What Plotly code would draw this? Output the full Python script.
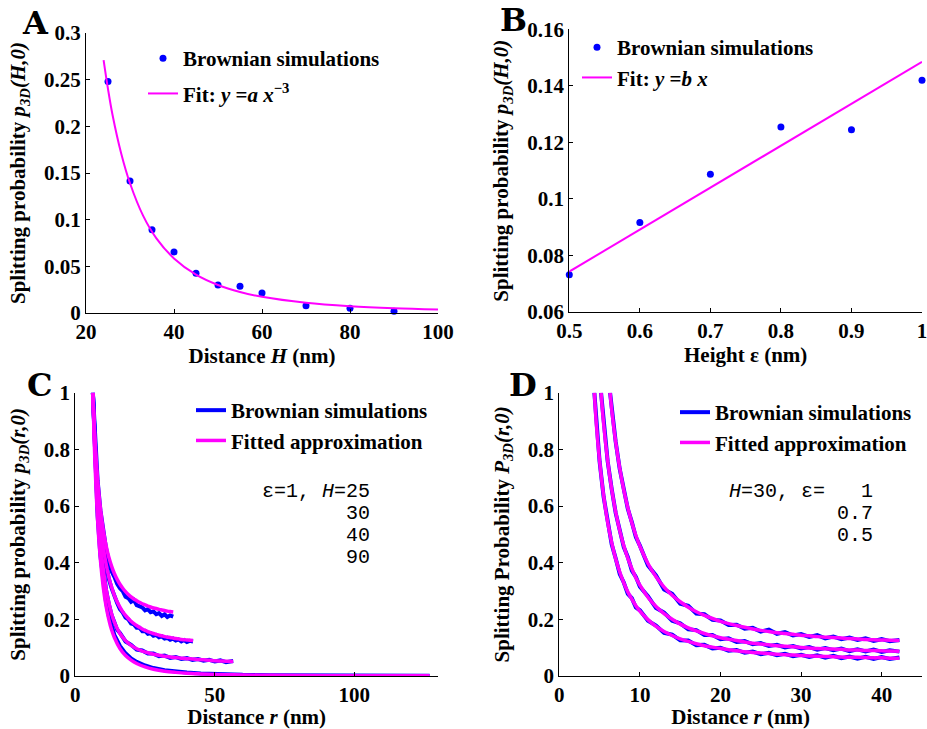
import plotly.graph_objects as go

# ---------------- Panel A data ----------------
H_A = [25, 30, 35, 40, 45, 50, 55, 60, 70, 80, 90]
P_A = [0.248, 0.1414, 0.0893, 0.0654, 0.0425, 0.030, 0.0286, 0.0214, 0.0079, 0.005, 0.0018]
FIT_A_X = [24, 25, 26, 28, 30, 33, 36, 40, 45, 50, 55, 60, 70, 80, 90, 100]
FIT_A_Y = [0.271, 0.240, 0.213, 0.171, 0.139, 0.104, 0.080, 0.0585, 0.0411, 0.030,
           0.0225, 0.0173, 0.0109, 0.0073, 0.0051, 0.0037]

# ---------------- Panel B data ----------------
EPS_B = [0.5, 0.6, 0.7, 0.8, 0.9, 1.0]
P_B = [0.0732, 0.0917, 0.1087, 0.1254, 0.1245, 0.142]
FIT_B_X = [0.5, 1.0]
FIT_B_Y = [0.0743, 0.1485]

# ---------------- shared r grid tail ----------------
R_TAIL = [11, 12, 13, 14, 15, 16, 17, 18, 19, 20, 21, 22, 23, 24, 25, 26, 27, 28, 29, 30,
          31, 32, 33, 34, 35, 36, 37, 38, 39, 40, 41]

# ---------------- Panel C data (eps=1) ----------------
C25_R = [6.3, 7, 8, 9, 10, 11, 12, 13, 14, 15, 16, 17, 18, 19, 20, 21, 22, 23, 24, 25,
         26, 27, 28, 29, 30, 31, 32, 33, 34, 35.1]
C25_FIT = [1.0, 0.848, 0.696, 0.592, 0.518, 0.462, 0.420, 0.388, 0.362, 0.341, 0.324, 0.310,
           0.298, 0.288, 0.279, 0.272, 0.266, 0.260, 0.255, 0.251, 0.247, 0.2435, 0.240,
           0.238, 0.235, 0.233, 0.231, 0.229, 0.2275, 0.226]
C25_SIM = [1.0, 0.845, 0.69, 0.585, 0.51, 0.452, 0.405, 0.37, 0.35, 0.325, 0.31, 0.3, 0.28,
           0.275, 0.262, 0.268, 0.25, 0.245, 0.242, 0.232, 0.236, 0.225, 0.228, 0.218, 0.222,
           0.212, 0.218, 0.208, 0.214, 0.21]

C30_R = [6.3, 6.5, 7, 7.5, 8, 8.5, 9, 9.5, 10] + R_TAIL + [42.2]
C30_FIT = [1.0, 0.941, 0.825, 0.733, 0.657, 0.594, 0.541, 0.496, 0.458,
           0.397, 0.350, 0.314, 0.285, 0.262, 0.243, 0.227, 0.214, 0.203, 0.193, 0.185,
           0.178, 0.172, 0.166, 0.161, 0.157, 0.153, 0.150, 0.147, 0.144, 0.142, 0.139,
           0.137, 0.136, 0.134, 0.132, 0.131, 0.129, 0.128, 0.127, 0.126, 0.125]
C30_SIM = [1.0, 0.938, 0.82, 0.728, 0.65, 0.588, 0.535, 0.49, 0.452,
           0.39, 0.343, 0.31, 0.278, 0.258, 0.236, 0.224, 0.206, 0.2, 0.185,
           0.182, 0.17, 0.17, 0.158, 0.159, 0.149, 0.151, 0.142, 0.145, 0.137,
           0.14, 0.132, 0.135, 0.128, 0.132, 0.125, 0.129, 0.122, 0.127, 0.12,
           0.124, 0.122]

C40_R = [6.3, 7, 8, 9, 10, 11, 12, 13, 14, 15, 16, 18, 20, 22, 24, 26, 28, 30, 32, 34, 36,
         38, 40, 42, 44, 46, 48, 50, 52, 54, 56.6]
C40_FIT = [1.0, 0.80, 0.60, 0.47, 0.38, 0.31, 0.26, 0.22, 0.19, 0.168, 0.15, 0.125, 0.108,
           0.096, 0.088, 0.082, 0.077, 0.073, 0.070, 0.067, 0.065, 0.063, 0.061, 0.060,
           0.058, 0.057, 0.056, 0.054, 0.053, 0.052, 0.051]
C40_SIM = [1.0, 0.79, 0.59, 0.465, 0.37, 0.305, 0.255, 0.215, 0.19, 0.163, 0.152, 0.122,
           0.11, 0.093, 0.09, 0.079, 0.079, 0.07, 0.072, 0.064, 0.067, 0.06, 0.063, 0.057,
           0.06, 0.054, 0.057, 0.051, 0.055, 0.049, 0.053]

C90_R = [6.3, 7, 8, 9, 10, 11, 12, 13, 14, 16, 18, 20, 22, 25, 28, 32, 36, 40, 45, 50, 55,
         60, 70, 80, 90, 100, 110, 120, 127]
C90_FIT = [1.0, 0.768, 0.55, 0.41, 0.315, 0.248, 0.2, 0.163, 0.136, 0.097, 0.072, 0.056,
           0.044, 0.032, 0.024, 0.017, 0.0128, 0.0098, 0.0075, 0.0056, 0.0045, 0.0036,
           0.0025, 0.0018, 0.0013, 0.001, 0.0008, 0.0007, 0.0006]
C90_SIM = [1.0, 0.78, 0.565, 0.425, 0.33, 0.262, 0.212, 0.175, 0.145, 0.106, 0.08, 0.062,
           0.05, 0.037, 0.028, 0.02, 0.015, 0.012, 0.009, 0.007, 0.005, 0.004, 0.003, 0.002,
           0.0015, 0.001, 0.001, 0.0008, 0.0006]

# ---------------- Panel D data (H=30) ----------------
D10_R = [6.3, 6.5, 7, 7.5, 8, 8.5, 9, 9.5, 10] + R_TAIL + [42.2]
D10_FIT = [1.0, 0.941, 0.825, 0.733, 0.657, 0.594, 0.541, 0.496, 0.458,
           0.397, 0.350, 0.314, 0.285, 0.262, 0.243, 0.227, 0.214, 0.203, 0.193, 0.185,
           0.178, 0.172, 0.166, 0.161, 0.157, 0.153, 0.150, 0.147, 0.144, 0.142, 0.139,
           0.137, 0.136, 0.134, 0.132, 0.131, 0.129, 0.128, 0.127, 0.126, 0.125]
D10_SIM = [1.0, 0.94, 0.826, 0.73, 0.655, 0.59, 0.543, 0.49, 0.46,
           0.39, 0.355, 0.305, 0.29, 0.255, 0.248, 0.22, 0.218, 0.198, 0.196,
           0.18, 0.181, 0.167, 0.17, 0.157, 0.164, 0.149, 0.155, 0.143, 0.148,
           0.138, 0.144, 0.133, 0.139, 0.13, 0.136, 0.127, 0.133, 0.124, 0.13,
           0.123, 0.127]

D07_R = [5.18, 5.5, 6, 6.5, 7, 7.5, 8, 8.5, 9, 9.5, 10] + R_TAIL + [42.2]
D07_FIT = [1.0, 0.89, 0.76, 0.659, 0.578, 0.513, 0.460, 0.416, 0.379, 0.347, 0.321,
           0.278, 0.245, 0.220, 0.200, 0.183, 0.170, 0.159, 0.150, 0.142, 0.135,
           0.130, 0.125, 0.120, 0.116, 0.113, 0.110, 0.107, 0.105, 0.103, 0.101,
           0.099, 0.097, 0.096, 0.095, 0.094, 0.092, 0.092, 0.090, 0.090, 0.089, 0.088,
           0.0875]
D07_SIM = [1.0, 0.89, 0.758, 0.66, 0.575, 0.515, 0.455, 0.42, 0.372, 0.35, 0.315,
           0.282, 0.24, 0.224, 0.195, 0.186, 0.165, 0.162, 0.145, 0.145, 0.13,
           0.133, 0.12, 0.123, 0.112, 0.116, 0.106, 0.11, 0.101, 0.106, 0.097,
           0.102, 0.093, 0.099, 0.091, 0.097, 0.088, 0.094, 0.087, 0.093, 0.085, 0.091,
           0.086]

D05_R = [4.35, 4.6, 5, 5.5, 6, 6.5, 7, 7.5, 8, 8.5, 9, 9.5, 10] + R_TAIL + [42.2]
D05_FIT = [1.0, 0.887, 0.759, 0.636, 0.543, 0.471, 0.413, 0.367, 0.329, 0.297, 0.271, 0.248,
           0.229,
           0.199, 0.175, 0.157, 0.143, 0.131, 0.122, 0.114, 0.107, 0.102, 0.097,
           0.093, 0.089, 0.086, 0.083, 0.081, 0.079, 0.077, 0.075, 0.074, 0.072,
           0.071, 0.070, 0.069, 0.068, 0.067, 0.066, 0.066, 0.065, 0.064, 0.064, 0.063,
           0.0625]
D05_SIM = [1.0, 0.885, 0.757, 0.632, 0.545, 0.465, 0.415, 0.36, 0.33, 0.29, 0.275, 0.242,
           0.232,
           0.195, 0.178, 0.152, 0.146, 0.126, 0.125, 0.109, 0.11, 0.097, 0.1,
           0.089, 0.092, 0.082, 0.086, 0.077, 0.082, 0.073, 0.078, 0.07, 0.075,
           0.067, 0.073, 0.065, 0.071, 0.063, 0.069, 0.061, 0.068, 0.06, 0.067, 0.06,
           0.065]

# ---------------- ticks ----------------
A_XT = [20, 40, 60, 80, 100]
A_YT = [0, 0.05, 0.1, 0.15, 0.2, 0.25, 0.3]
A_YL = ["0", "0.05", "0.1", "0.15", "0.2", "0.25", "0.3"]
B_XT = [0.5, 0.6, 0.7, 0.8, 0.9, 1.0]
B_XL = ["0.5", "0.6", "0.7", "0.8", "0.9", "1"]
B_YT = [0.06, 0.08, 0.1, 0.12, 0.14, 0.16]
B_YL = ["0.06", "0.08", "0.1", "0.12", "0.14", "0.16"]
C_XT = [0, 50, 100]
D_XT = [0, 10, 20, 30, 40]
CD_YT = [0, 0.2, 0.4, 0.6, 0.8, 1.0]
CD_YL = ["0", "0.2", "0.4", "0.6", "0.8", "1"]

BLUE = "#0000FF"
MAG = "#FF00FF"
SERIF = "'Times New Roman', 'Liberation Serif', Times, serif"
FS = 21
W, H = 927, 729

fig = go.Figure()

# Panel A
fig.add_trace(go.Scatter(x=H_A, y=P_A, mode="markers", name="Brownian simulations",
                         marker=dict(color=BLUE, size=7), xaxis="x", yaxis="y",
                         legend="legend", legendgroup="a1", cliponaxis=False))
fig.add_trace(go.Scatter(x=FIT_A_X, y=FIT_A_Y, mode="lines", line=dict(color=MAG, width=2, shape="spline"),
                         name="Fit: <i>y</i> =<i>a x</i><sup>−3</sup>", xaxis="x", yaxis="y",
                         legend="legend", legendgroup="a2"))
# Panel B
fig.add_trace(go.Scatter(x=EPS_B, y=P_B, mode="markers", name="Brownian simulations",
                         marker=dict(color=BLUE, size=7), xaxis="x2", yaxis="y2",
                         legend="legend2", cliponaxis=False))
fig.add_trace(go.Scatter(x=FIT_B_X, y=FIT_B_Y, mode="lines", line=dict(color=MAG, width=2),
                         name="Fit: <i>y</i> =<i>b x</i>", xaxis="x2", yaxis="y2",
                         legend="legend2"))

# Panel C
c_sets = [(C25_R, C25_SIM, C25_FIT), (C30_R, C30_SIM, C30_FIT),
          (C40_R, C40_SIM, C40_FIT), (C90_R, C90_SIM, C90_FIT)]
for i, (r, sim, fit) in enumerate(c_sets):
    fig.add_trace(go.Scatter(x=r, y=sim, mode="lines", line=dict(color=BLUE, width=4),
                             name="Brownian simulations", showlegend=(i == 0),
                             xaxis="x3", yaxis="y3", legend="legend3"))
for i, (r, sim, fit) in enumerate(c_sets):
    fig.add_trace(go.Scatter(x=r, y=fit, mode="lines", line=dict(color=MAG, width=3.5, shape="spline"),
                             name="Fitted approximation", showlegend=(i == 0),
                             xaxis="x3", yaxis="y3", legend="legend3"))

# Panel D
d_sets = [(D10_R, D10_SIM, D10_FIT), (D07_R, D07_SIM, D07_FIT), (D05_R, D05_SIM, D05_FIT)]
for i, (r, sim, fit) in enumerate(d_sets):
    fig.add_trace(go.Scatter(x=r, y=sim, mode="lines", line=dict(color=BLUE, width=4),
                             name="Brownian simulations", showlegend=(i == 0),
                             xaxis="x4", yaxis="y4", legend="legend4"))
for i, (r, sim, fit) in enumerate(d_sets):
    fig.add_trace(go.Scatter(x=r, y=fit, mode="lines", line=dict(color=MAG, width=3.5, shape="spline"),
                             name="Fitted approximation", showlegend=(i == 0),
                             xaxis="x4", yaxis="y4", legend="legend4"))

tickfont = dict(family=SERIF, size=FS, color="black", weight="bold")
titlefont = dict(family=SERIF, size=FS, color="black", weight="bold")


def ax(domain, rng, tickvals, ticktext=None, title="", standoff=2, anchor=None):
    d = dict(domain=domain, range=rng, tickvals=tickvals, showgrid=False, zeroline=False,
             showline=True, linecolor="black", linewidth=1, ticks="inside", ticklen=4,
             tickcolor="black", tickfont=tickfont, mirror=False, automargin=False,
             ticklabeloverflow="allow",
             title=dict(text=title, font=titlefont, standoff=standoff))
    if ticktext is not None:
        d["ticktext"] = ticktext
    if anchor:
        d["anchor"] = anchor
    return d


def px_x(p):
    return p / W


def px_y(p):
    return 1 - p / H


xA = [px_x(86), px_x(438)]
yA = [px_y(313), px_y(33)]
xB = [px_x(569.3), px_x(922)]
yB = [px_y(312), px_y(29.3)]
xC = [px_x(75.3), px_x(438)]
yC = [px_y(676), px_y(392.7)]
xD = [px_x(559.3), px_x(922)]
yD = [px_y(676), px_y(392.7)]

ytitle_A = "Splitting probability <i>p</i><sub><i>3D</i></sub><i>(H,0)</i>"
ytitle_C = "Splitting probability <i>p</i><sub><i>3D</i></sub><i>(r,0)</i>"
ytitle_D = "Splitting Probability <i>P</i><sub><i>3D</i></sub><i>(r,0)</i>"

legfont = dict(family=SERIF, size=FS, color="black", weight="bold")


def leg(x, y, gap=0, order="normal"):
    return dict(x=x, y=y, xanchor="left", yanchor="top", bgcolor="rgba(0,0,0,0)",
                borderwidth=0, font=legfont, itemwidth=30, tracegroupgap=gap,
                traceorder=order)


ann_font = dict(family="'Courier New', 'Liberation Mono', monospace", size=20, color="black")
letter_font = dict(family="'DejaVu Serif', serif", size=32, color="black", weight="bold")


def letter(t, x, y):
    return dict(text=t, x=px_x(x), y=px_y(y), xref="paper", yref="paper", showarrow=False,
                xanchor="center", yanchor="middle", font=letter_font)


def note(t, x, y, xr, yr):
    return dict(text=t, x=x, y=y, xref=xr, yref=yr, xanchor="right", yanchor="middle",
                showarrow=False, font=ann_font)


annotations = [
    letter("A", 35, 23), letter("B", 513, 20), letter("C", 39, 385), letter("D", 523, 385),
    note("ε=1, <i>H</i>=25", 106.2, 0.653, "x3", "y3"),
    note("30", 106.2, 0.575, "x3", "y3"),
    note("40", 106.2, 0.497, "x3", "y3"),
    note("90", 106.2, 0.42, "x3", "y3"),
    note("<i>H</i>=30, ε=   1", 39.2, 0.65, "x4", "y4"),
    note("0.7", 39.2, 0.572, "x4", "y4"),
    note("0.5", 39.2, 0.495, "x4", "y4"),
]

fig.update_layout(
    width=W, height=H, autosize=False,
    margin=dict(l=0, r=0, t=0, b=0),
    paper_bgcolor="white", plot_bgcolor="white",
    font=dict(family=SERIF),
    xaxis=ax(xA, [20, 100], A_XT, title="Distance <i>H</i> (nm)", anchor="y"),
    yaxis=ax(yA, [0, 0.3], A_YT, A_YL, title=ytitle_A, standoff=12, anchor="x"),
    xaxis2=ax(xB, [0.5, 1.0], B_XT, B_XL, title="Height ε (nm)", anchor="y2"),
    yaxis2=ax(yB, [0.06, 0.16], B_YT, B_YL, title=ytitle_A, standoff=12, anchor="x2"),
    xaxis3=ax(xC, [0, 130], C_XT, title="Distance <i>r</i> (nm)", anchor="y3"),
    yaxis3=ax(yC, [0, 1], CD_YT, CD_YL, title=ytitle_C, standoff=12, anchor="x3"),
    xaxis4=ax(xD, [0, 45], D_XT, title="Distance <i>r</i> (nm)", anchor="y4"),
    yaxis4=ax(yD, [0, 1], CD_YT, CD_YL, title=ytitle_D, standoff=12, anchor="x4"),
    legend=leg(px_x(143), px_y(38), gap=5, order="grouped"),
    legend2=leg(px_x(577), px_y(27)),
    legend3=leg(px_x(191), px_y(390)),
    legend4=leg(px_x(675), px_y(392)),
    annotations=annotations,
    showlegend=True,
)

fig.write_html("out.html", config={"displayModeBar": False},
               post_script="document.body.style.margin='0px';document.body.style.overflow='hidden';")
